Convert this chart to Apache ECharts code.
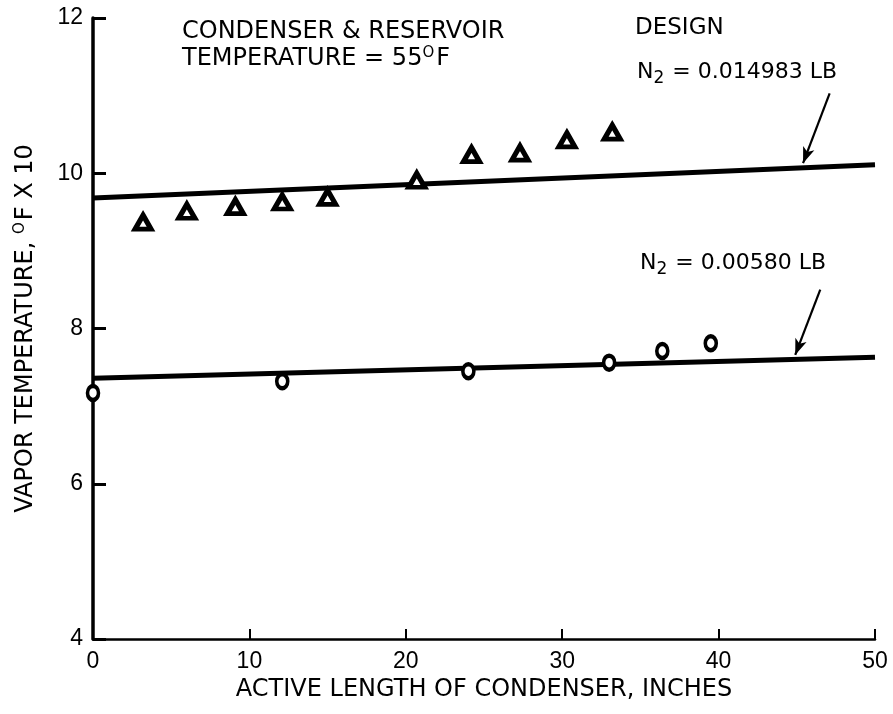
<!DOCTYPE html>
<html>
<head>
<meta charset="utf-8">
<script src="https://cdn.jsdelivr.net/npm/echarts@6/dist/echarts.min.js"></script>
<style>html,body{margin:0;padding:0;background:#fff;}#chart{width:893px;height:714px;}</style>
</head>
<body>
<div id="chart"></div>
<script>
// ---- data ----
const xTicks = [0, 10, 20, 30, 40, 50];
const yTicks = [4, 6, 8, 10, 12];

// N2 = 0.014983 LB (triangles)
const lengthTri = [3.2, 6.0, 9.1, 12.1, 15.0, 20.7, 24.2, 27.3, 30.3, 33.2];
const tempTri   = [9.37, 9.51, 9.57, 9.63, 9.69, 9.91, 10.24, 10.26, 10.43, 10.53];
// N2 = 0.00580 LB (circles)
const lengthCirc = [0, 12.1, 24.0, 33.0, 36.4, 39.5];
const tempCirc   = [7.17, 7.32, 7.45, 7.56, 7.71, 7.81];

// design lines (end points)
const designX = [0, 50];
const designHigh = [9.68, 10.11];
const designLow  = [7.36, 7.63];

// annotation arrows: [start, tip] in data units
const arrowHigh = [[47.1, 11.03], [45.4, 10.13]];
const arrowLow  = [[46.5, 8.50], [44.9, 7.66]];

const chart = echarts.init(document.getElementById('chart'), null, {renderer: 'canvas'});
const zip = (xs, ys) => xs.map((x, i) => [x, ys[i]]);
const FONT_T = 'Liberation Sans';
const FONT_A = 'DejaVu Sans';

const arrowMark = (a) => ({
  silent: true,
  symbol: ['none', 'arrow'],
  symbolSize: [9, 16],
  label: {show: false},
  lineStyle: {color: '#000', width: 2.2, type: 'solid'},
  data: [[{coord: a[0]}, {coord: a[1]}]],
  animation: false
});

const option = {
  backgroundColor: '#fff',
  animation: false,
  grid: {left: 93, right: 18, top: 18, bottom: 75, containLabel: false},
  xAxis: {
    type: 'value', min: xTicks[0], max: xTicks[xTicks.length - 1], interval: 10,
    name: 'ACTIVE LENGTH OF CONDENSER, INCHES',
    nameLocation: 'middle', nameGap: 38,
    nameTextStyle: {fontFamily: FONT_A, fontSize: 24, color: '#000'},
    axisLine: {onZero: false, lineStyle: {color: '#000', width: 2.5}},
    axisTick: {inside: true, length: 10, lineStyle: {color: '#000', width: 2}},
    axisLabel: {fontFamily: FONT_T, fontSize: 23, color: '#000', margin: 11},
    splitLine: {show: false}
  },
  yAxis: {
    type: 'value', min: yTicks[0], max: yTicks[yTicks.length - 1], interval: 2,
    name: 'VAPOR TEMPERATURE, {sup|O}F X 10',
    nameLocation: 'middle', nameGap: 55,
    nameTextStyle: {fontFamily: FONT_A, fontSize: 24, color: '#000',
      rich: {sup: {fontFamily: FONT_A, fontSize: 15, color: '#000', padding: [0, 2, 10, 0]}}},
    axisLine: {onZero: false, lineStyle: {color: '#000', width: 3.5}},
    axisTick: {inside: true, length: 13, lineStyle: {color: '#000', width: 3}},
    axisLabel: {fontFamily: FONT_T, fontSize: 23, color: '#000', margin: 10},
    splitLine: {show: false}
  },
  series: [
    {
      type: 'line', data: zip(designX, designHigh), showSymbol: false, z: 2,
      lineStyle: {color: '#000', width: 5}, markLine: arrowMark(arrowHigh)
    },
    {
      type: 'line', data: zip(designX, designLow), showSymbol: false, z: 2,
      lineStyle: {color: '#000', width: 5}, markLine: arrowMark(arrowLow)
    },
    {
      type: 'scatter', data: zip(lengthTri, tempTri), symbol: 'triangle', symbolSize: [16, 14], z: 3,
      itemStyle: {color: '#fff', borderColor: '#000', borderWidth: 5, opacity: 1}
    },
    {
      type: 'scatter', data: zip(lengthCirc, tempCirc), symbol: 'circle', symbolSize: [11, 14], z: 3,
      itemStyle: {color: '#fff', borderColor: '#000', borderWidth: 4, opacity: 1}
    }
  ],
  graphic: [
    {type: 'text', left: 182, top: 20, silent: true,
      style: {text: 'CONDENSER & RESERVOIR', font: '24px "DejaVu Sans"', fill: '#000'}},
    {type: 'text', left: 182, top: 46, silent: true,
      style: {text: 'TEMPERATURE = 55{sup|O}F', font: '24px "DejaVu Sans"', fill: '#000',
        rich: {sup: {fontFamily: FONT_A, fontSize: 15, fill: '#000', padding: [0, 2, 10, 0]}}}},
    {type: 'text', left: 635, top: 17, silent: true,
      style: {text: 'DESIGN', font: '23px "DejaVu Sans"', fill: '#000'}},
    {type: 'text', left: 637, top: 61, silent: true,
      style: {text: 'N{sub|2} = 0.014983 LB', font: '22px "DejaVu Sans"', fill: '#000',
        rich: {sub: {fontFamily: FONT_A, fontSize: 17, fill: '#000', padding: [13, 1, 0, 0]}}}},
    {type: 'text', left: 640, top: 252, silent: true,
      style: {text: 'N{sub|2} = 0.00580 LB', font: '22px "DejaVu Sans"', fill: '#000',
        rich: {sub: {fontFamily: FONT_A, fontSize: 17, fill: '#000', padding: [13, 1, 0, 0]}}}}
  ]
};
chart.setOption(option);
</script>
</body>
</html>
